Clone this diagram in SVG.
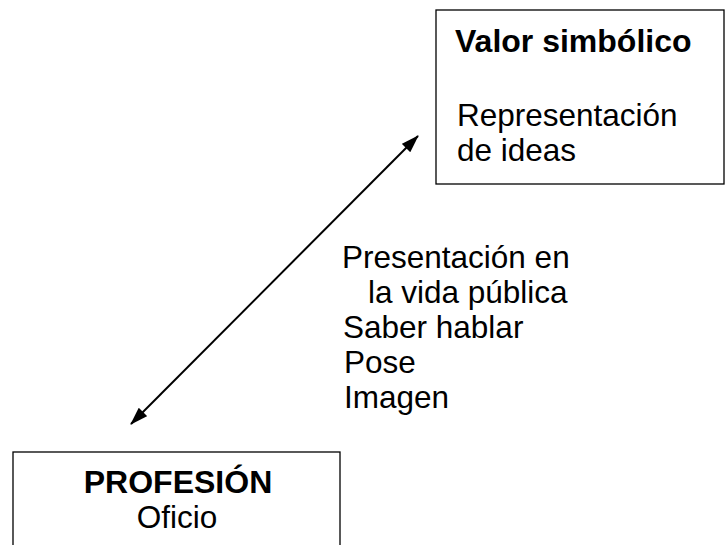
<svg xmlns="http://www.w3.org/2000/svg" width="725" height="545" viewBox="0 0 725 545">
<defs>
<style>
.box{fill:#fff;stroke:#000;stroke-width:1.3}
.t{font-family:"Liberation Sans",Arial,sans-serif;font-size:31.5px;fill:#000}
.b{font-weight:bold;font-size:32px}
.ln{stroke:#000;stroke-width:2;fill:none}
</style>
<marker id="ah" viewBox="0 0 18 12" refX="17" refY="6" markerWidth="18" markerHeight="12" markerUnits="userSpaceOnUse" orient="auto-start-reverse">
<path d="M0,0 L18,6 L0,12 z" fill="#000"/>
</marker>
</defs>
<rect width="725" height="545" fill="#fff"/>
<g id="valor">
<rect class="box" x="436" y="10" width="288" height="174"/>
<text class="t b" x="455" y="52">Valor simbólico</text>
<text class="t" x="457" y="126">Representación</text>
<text class="t" x="457" y="161">de ideas</text>
</g>
<g id="profesion">
<rect class="box" x="13" y="452" width="327" height="110"/>
<text class="t b" x="178" y="493" text-anchor="middle">PROFESIÓN</text>
<text class="t" x="177" y="528" text-anchor="middle">Oficio</text>
</g>
<g id="connectors">
<line class="ln" x1="131" y1="424" x2="418" y2="136" marker-start="url(#ah)" marker-end="url(#ah)"/>
</g>
<g id="label">
<text class="t" x="342" y="268">Presentación en</text>
<text class="t" x="368" y="303">la vida pública</text>
<text class="t" x="343" y="338">Saber hablar</text>
<text class="t" x="344" y="373">Pose</text>
<text class="t" x="344" y="408">Imagen</text>
</g>
</svg>
